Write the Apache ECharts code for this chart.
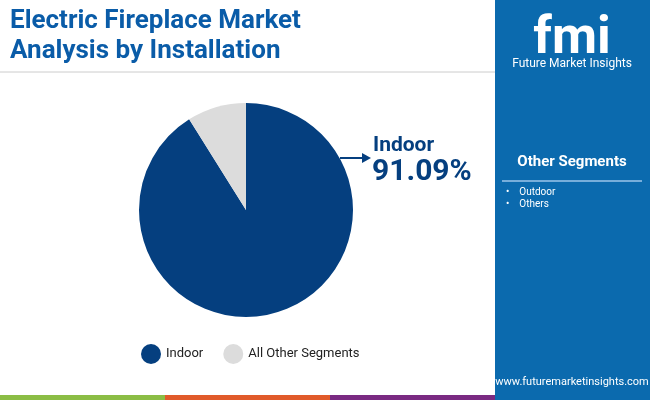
<!DOCTYPE html><html><head><meta charset="utf-8"><script src="https://cdn.jsdelivr.net/npm/echarts@6/dist/echarts.min.js"></script><style>body{margin:0}#c{width:650px;height:400px}</style></head><body><div id="c"></div><script>
const categories=['Indoor','All Other Segments'];
const values=[91.09,8.91];
const otherSegments=['Outdoor','Others'];
const chart=echarts.init(document.getElementById('c'));
const F='Roboto';
chart.setOption({
animation:false,
legend:{bottom:31,left:136,itemWidth:20,itemHeight:20,itemGap:20,icon:'circle',textStyle:{fontFamily:F,fontSize:13,color:'#222'},data:categories},
series:[{type:'pie',center:[246,210],radius:[0,107],startAngle:90,label:{show:false},labelLine:{show:false},
 data:categories.map((n,i)=>({name:n,value:values[i],itemStyle:{color:['#053f7f','#dcdcdc'][i]}}))}],
graphic:[
 {type:'rect',shape:{x:495,y:0,width:155,height:400},style:{fill:'#0b6aae'}},
 {type:'text',left:10,top:6,style:{text:'Electric Fireplace Market\nAnalysis by Installation',font:'bold 26px '+F,fill:'#0a5ca8',lineHeight:30}},
 {type:'line',shape:{x1:0,y1:72,x2:495,y2:72},style:{stroke:'#cccccc',lineWidth:1}},
 {type:'rect',shape:{x:0,y:395,width:165,height:5},style:{fill:'#8bbd45'}},
 {type:'rect',shape:{x:165,y:395,width:165,height:5},style:{fill:'#e15a2a'}},
 {type:'rect',shape:{x:330,y:395,width:165,height:5},style:{fill:'#7a2a82'}},
 {type:'text',x:572,y:14,style:{text:'fmi',font:'bold 52px '+F,fill:'#ffffff',align:'center'}},
 {type:'text',x:572,y:58,style:{text:'Future Market Insights',font:'12px '+F,fill:'#ffffff',align:'center'}},
 {type:'text',x:572,y:155,style:{text:'Other Segments',font:'bold 15px '+F,fill:'#ffffff',align:'center'}},
 {type:'line',shape:{x1:502,y1:181,x2:642,y2:181},style:{stroke:'#9cc6ea',lineWidth:1.5}},
 {type:'text',x:506,y:186,style:{text:otherSegments.map(s=>'•    '+s).join('\n'),font:'10px '+F,fill:'#ffffff',lineHeight:12.5}},
 {type:'text',x:572,y:377,style:{text:'www.futuremarketinsights.com',font:'11px '+F,fill:'#ffffff',align:'center'}},
 {type:'line',shape:{x1:340,y1:158,x2:364,y2:158},style:{stroke:'#053f7f',lineWidth:2}},
 {type:'polygon',shape:{points:[[362,153],[371,158],[362,163]]},style:{fill:'#053f7f'}},
 {type:'text',x:373,y:135,style:{text:categories[0],font:'bold 21px '+F,fill:'#053f7f'}},
 {type:'text',x:372,y:157,style:{text:values[0].toFixed(2)+'%',font:'bold 30px '+F,fill:'#053f7f'}}
]});
</script></body></html>
